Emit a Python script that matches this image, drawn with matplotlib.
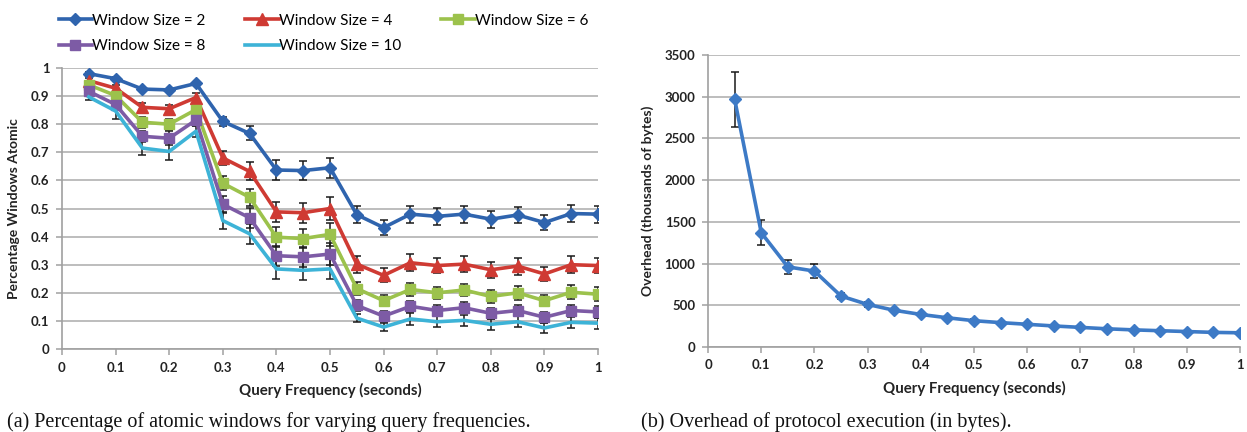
import matplotlib
matplotlib.use("Agg")
import matplotlib.pyplot as plt
from matplotlib.lines import Line2D

# Query frequencies (seconds)
freq = [0.05, 0.10, 0.15, 0.20, 0.25, 0.30, 0.35, 0.40, 0.45, 0.50,
        0.55, 0.60, 0.65, 0.70, 0.75, 0.80, 0.85, 0.90, 0.95, 1.00]

# Fraction of windows that are atomic, per window size
ws2 = [0.980, 0.962, 0.925, 0.922, 0.945, 0.810, 0.767, 0.637, 0.635, 0.645,
       0.478, 0.432, 0.480, 0.472, 0.480, 0.462, 0.477, 0.450, 0.482, 0.480]
ws4 = [0.955, 0.928, 0.860, 0.855, 0.895, 0.680, 0.632, 0.488, 0.485, 0.500,
       0.302, 0.262, 0.307, 0.297, 0.302, 0.282, 0.295, 0.267, 0.300, 0.297]
ws6 = [0.940, 0.902, 0.807, 0.800, 0.852, 0.590, 0.540, 0.398, 0.393, 0.408,
       0.215, 0.172, 0.212, 0.200, 0.210, 0.187, 0.200, 0.172, 0.202, 0.195]
ws8 = [0.917, 0.870, 0.757, 0.750, 0.815, 0.515, 0.467, 0.332, 0.328, 0.338,
       0.155, 0.117, 0.152, 0.137, 0.147, 0.127, 0.137, 0.113, 0.137, 0.132]
ws10 = [0.897, 0.847, 0.715, 0.703, 0.775, 0.457, 0.410, 0.285, 0.280, 0.285,
        0.110, 0.078, 0.107, 0.097, 0.102, 0.088, 0.097, 0.075, 0.095, 0.092]

err2 = [0.005, 0.005, 0.005, 0.005, 0.005, 0.015, 0.025, 0.035, 0.035, 0.035,
        0.030, 0.028, 0.030, 0.030, 0.030, 0.030, 0.030, 0.028, 0.030, 0.030]
err4 = [0.010, 0.010, 0.015, 0.015, 0.015, 0.025, 0.032, 0.035, 0.035, 0.040,
        0.030, 0.025, 0.030, 0.028, 0.028, 0.028, 0.030, 0.025, 0.030, 0.028]
err6 = [0.010, 0.010, 0.020, 0.020, 0.020, 0.025, 0.030, 0.035, 0.035, 0.040,
        0.022, 0.020, 0.022, 0.022, 0.022, 0.022, 0.025, 0.020, 0.025, 0.025]
err8 = [0.010, 0.020, 0.020, 0.025, 0.020, 0.030, 0.035, 0.035, 0.035, 0.040,
        0.020, 0.020, 0.020, 0.020, 0.020, 0.020, 0.020, 0.020, 0.020, 0.020]
err10 = [0.010, 0.030, 0.025, 0.030, 0.020, 0.030, 0.035, 0.035, 0.035, 0.035,
         0.015, 0.015, 0.020, 0.020, 0.020, 0.020, 0.020, 0.018, 0.020, 0.020]

series_labels = ["Window Size = 2", "Window Size = 4", "Window Size = 6",
                 "Window Size = 8", "Window Size = 10"]

# Protocol overhead (thousands of bytes)
overhead = [2970, 1370, 960, 910, 610, 510, 440, 390, 350, 315,
            292, 272, 252, 235, 218, 205, 195, 185, 175, 170]
overhead_err = [330, 150, 80, 80, 40, 25, 20, 18, 15, 15,
                12, 12, 10, 10, 10, 10, 8, 8, 8, 8]

x_ticks = [0, 0.1, 0.2, 0.3, 0.4, 0.5, 0.6, 0.7, 0.8, 0.9, 1]
x_ticklabels = ["0", "0.1", "0.2", "0.3", "0.4", "0.5", "0.6", "0.7", "0.8", "0.9", "1"]
y1_ticks = [0, 0.1, 0.2, 0.3, 0.4, 0.5, 0.6, 0.7, 0.8, 0.9, 1]
y1_ticklabels = x_ticklabels
y2_ticks = [0, 500, 1000, 1500, 2000, 2500, 3000, 3500]

colors = ["#2F64AE", "#CF3A33", "#9CC24C", "#7D5BA5", "#3DB3D7"]
markers = ["D", "^", "s", "s", None]
msizes = [6.5, 8, 7, 7, 0]

plt.rcParams["font.family"] = ["Lato", "DejaVu Sans"]

fig = plt.figure(figsize=(12.47, 4.32), dpi=100)
ax1 = fig.add_axes([0.0497, 0.1921, 0.4299, 0.6505])
ax2 = fig.add_axes([0.5678, 0.1968, 0.4266, 0.6759])

grid_col = "#B8B8B8"
spine_col = "#A0A0A0"


def style_axes(ax):
    ax.set_xlim(0, 1)
    ax.spines["top"].set_visible(False)
    ax.spines["right"].set_visible(False)
    ax.spines["left"].set_color(spine_col)
    ax.spines["bottom"].set_color(spine_col)
    ax.spines["left"].set_linewidth(1.2)
    ax.spines["bottom"].set_linewidth(1.2)
    ax.yaxis.grid(True, color=grid_col, linewidth=1.3)
    ax.set_axisbelow(True)
    ax.tick_params(axis="both", colors=spine_col, length=4, width=1.1,
                   labelcolor="#222222", labelsize=9.5, pad=5)
    ax.set_xticks(x_ticks)
    ax.set_xticklabels(x_ticklabels, fontweight="bold")
    ax.set_xlabel("Query Frequency (seconds)", fontsize=10.8, fontweight="bold",
                  color="#222222", labelpad=7)


all_series = [ws2, ws4, ws6, ws8, ws10]
all_errs = [err2, err4, err6, err8, err10]
handles = []
for vals, errs, c, m, ms, lab in zip(all_series, all_errs, colors, markers,
                                     msizes, series_labels):
    ax1.errorbar(freq, vals, yerr=errs, fmt="none", ecolor="#1A1A1A",
                 elinewidth=1.1, capsize=3, capthick=1.1, zorder=2)
    ax1.plot(freq, vals, color=c, linewidth=2.6, marker=m if m else None,
             markersize=ms, markeredgecolor=c, markerfacecolor=c, zorder=3)
    handles.append(Line2D([], [], color=c, linewidth=2.6,
                          marker=m if m else None, markersize=ms,
                          markeredgecolor=c, markerfacecolor=c, label=lab))

style_axes(ax1)
ax1.set_ylim(0, 1)
ax1.set_yticks(y1_ticks)
ax1.set_yticklabels(y1_ticklabels, fontweight="bold")
ax1.set_ylabel("Percentage Windows Atomic", fontsize=10, fontweight="bold",
               color="#222222", labelpad=8)

# legend laid out row by row: 2, 4, 6 / 8, 10
order = [0, 3, 1, 4, 2]
fig.legend([handles[i] for i in order], [series_labels[i] for i in order],
           ncol=3, loc="upper left", bbox_to_anchor=(0.036, 1.0),
           frameon=False, fontsize=11, handlelength=2.2, handletextpad=0.0,
           columnspacing=2.6, labelspacing=0.75, markerscale=1.0)

ax2.errorbar(freq, overhead, yerr=overhead_err, fmt="none", ecolor="#1A1A1A",
             elinewidth=1.1, capsize=3, capthick=1.1, zorder=2)
ax2.plot(freq, overhead, color="#3D7AC6", linewidth=2.6, marker="D",
         markersize=6.5, markeredgecolor="#3D7AC6", markerfacecolor="#3D7AC6",
         zorder=3)
style_axes(ax2)
ax2.set_ylim(0, 3500)
ax2.set_yticks(y2_ticks)
ax2.set_yticklabels([str(v) for v in y2_ticks], fontweight="bold")
ax2.set_ylabel("Overhead (thousands of bytes)", fontsize=10, fontweight="bold",
               color="#222222", labelpad=8)

fig.text(0.006, 0.012, "(a) Percentage of atomic windows for varying query frequencies.",
         fontsize=14.5, family="Liberation Serif", color="#111111")
fig.text(0.514, 0.012, "(b) Overhead of protocol execution (in bytes).",
         fontsize=14.5, family="Liberation Serif", color="#111111")

fig.savefig("out.png", dpi=100)
